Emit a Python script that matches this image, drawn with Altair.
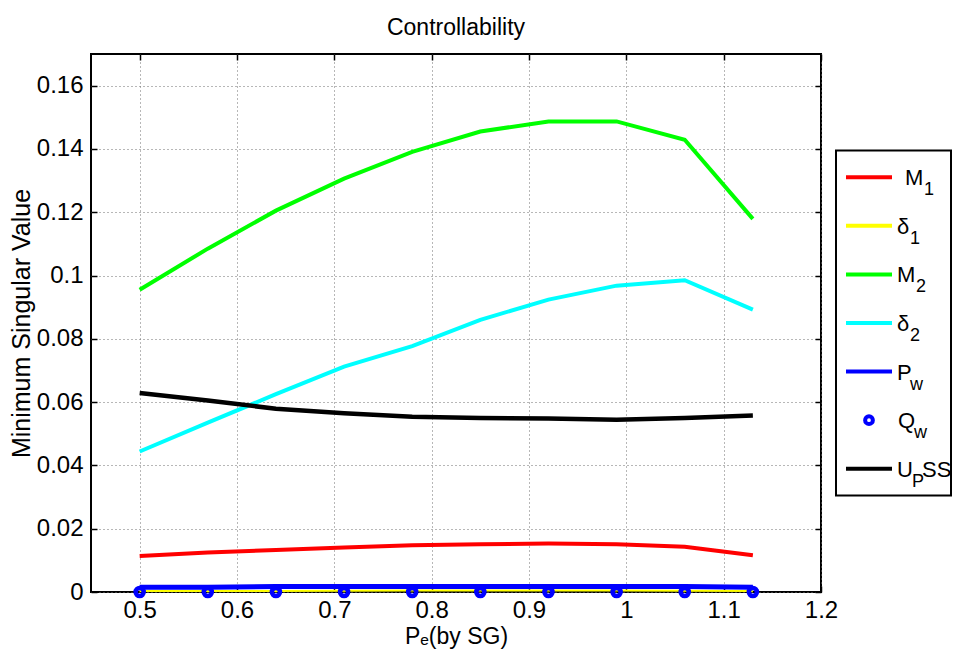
import altair as alt
import pandas as pd

# ---- data ----
x_vals = [0.5, 0.57, 0.64, 0.71, 0.78, 0.85, 0.92, 0.99, 1.06, 1.13]
m1 = [0.0114, 0.0125, 0.0133, 0.0141, 0.0148, 0.0151, 0.0153, 0.0151, 0.0143, 0.0116]
d1 = [0.0003, 0.0003, 0.0003, 0.0004, 0.0005, 0.0005, 0.0005, 0.0005, 0.0004, 0.0003]
m2 = [0.0955, 0.1085, 0.1205, 0.1306, 0.1391, 0.1455, 0.1487, 0.1487, 0.1429, 0.1179]
d2 = [0.0444, 0.0535, 0.0625, 0.0712, 0.0777, 0.0860, 0.0924, 0.0968, 0.0985, 0.0892]
pw = [0.0015, 0.0015, 0.0017, 0.0017, 0.0017, 0.0017, 0.0017, 0.0017, 0.0017, 0.0015]
qw = [0, 0, 0, 0, 0, 0, 0, 0, 0, 0]
upss = [0.0629, 0.0605, 0.0579, 0.0565, 0.0554, 0.0550, 0.0548, 0.0544, 0.0550, 0.0558]

series_names = ["M1", "δ1", "M2", "δ2", "Pw", "Qw", "UPSS"]
legend_main = ["M", "δ", "M", "δ", "P", "Q", "U"]
legend_sub = ["1", "1", "2", "2", "w", "w", "P"]
legend_tail = ["", "", "", "", "", "", "SS"]
colors = ["#ff0000", "#ffff00", "#00ff00", "#00ffff", "#0000ff", "#0000ff", "#000000"]

x_ticks = [0.5, 0.6, 0.7, 0.8, 0.9, 1.0, 1.1, 1.2]
y_ticks = [0, 0.02, 0.04, 0.06, 0.08, 0.1, 0.12, 0.14, 0.16]

rows = []
for name, vals in zip(series_names, [m1, d1, m2, d2, pw, qw, upss]):
    for xv, yv in zip(x_vals, vals):
        rows.append({"series": name, "x": xv, "y": yv})
df = pd.DataFrame(rows)

FONT = "Liberation Sans"

xscale = alt.Scale(domain=[0.45, 1.2], nice=False, zero=False)
yscale = alt.Scale(domain=[0, 0.17], nice=False)

grid_common = dict(grid=True, gridColor="#6e6e6e", gridDash=[1, 3], gridWidth=1,
                   domain=False, tickSize=6, tickColor="black", tickWidth=1.5,
                   offset=-6, labelFont=FONT, labelFontSize=24, labelColor="black",
                   titleFont=FONT, titleFontWeight="normal",
                   titleColor="black", format="~g", labelFlush=False)

x_axis = alt.Axis(values=x_ticks, orient="bottom", title="Pₑ(by SG)", titleFontSize=23,
                  labelPadding=6, titlePadding=3, **grid_common)
y_axis = alt.Axis(values=y_ticks, orient="left", title="Minimum Singular Value", titleFontSize=25,
                  labelPadding=8, titlePadding=2, **grid_common)

X = alt.X("x:Q", scale=xscale, axis=x_axis)
Y = alt.Y("y:Q", scale=yscale, axis=y_axis)

widths = {"M1": 4, "δ1": 2, "M2": 4, "δ2": 4, "Pw": 5, "UPSS": 4.5}

layers = []
for name, col in zip(series_names, colors):
    src = alt.Chart(df).transform_filter(alt.datum.series == name)
    if name == "Qw":
        layers.append(src.mark_point(shape="circle", filled=False, color=col,
                                     strokeWidth=4.5, size=65, opacity=1).encode(x=X, y=Y))
    else:
        layers.append(src.mark_line(color=col, strokeWidth=widths[name]).encode(x=X, y=Y))

data_layer = alt.layer(*layers)

tick_common = dict(grid=False, domain=False, labels=False, tickSize=6, tickColor="black",
                   tickWidth=1.5, offset=-6, title=None)
tick_layer = alt.Chart(df).transform_filter(alt.datum.series == "Qw").mark_point(opacity=0).encode(
    x=alt.X("x:Q", scale=xscale, axis=alt.Axis(values=x_ticks, orient="top", **tick_common)),
    y=alt.Y("y:Q", scale=yscale, axis=alt.Axis(values=y_ticks, orient="right", **tick_common)),
)

main = alt.layer(data_layer, tick_layer).resolve_axis(x="independent", y="independent").properties(
    width=730, height=538,
    title=alt.TitleParams("Controllability", font=FONT, fontSize=23, fontWeight="normal",
                          color="black", frame="group", anchor="middle", offset=13),
)

# ---- hand-made legend with subscripts ----
leg = pd.DataFrame({"series": series_names, "main": legend_main, "sub": legend_sub,
                    "tail": legend_tail})
LY = alt.Y("series:N", sort=series_names, scale=alt.Scale(type="point", padding=0.55), axis=None)
LX = alt.Scale(domain=[0, 115], range=[0, 115])
base = alt.Chart(leg)

leg_lines = base.transform_filter(alt.datum.series != "Qw").mark_rule(strokeWidth=4).encode(
    x=alt.value(10), x2=alt.value(56), y=LY,
    color=alt.Color("series:N", scale=alt.Scale(domain=series_names, range=colors), legend=None),
)
leg_point = base.transform_filter(alt.datum.series == "Qw").mark_point(
    shape="circle", filled=False, color="#0000ff", strokeWidth=4, size=60, opacity=1
).encode(x=alt.value(33), y=LY)

leg_main = base.transform_calculate(
    mx="datum.series == 'M1' ? 69 : (datum.main == 'Q' ? 62 : 61)"
).mark_text(align="left", baseline="middle", font=FONT, fontSize=22, dy=1, color="black").encode(
    x=alt.X("mx:Q", scale=LX, axis=None), y=LY, text="main:N")

leg_sub = base.transform_calculate(
    sx="datum.series == 'M1' ? 88 : (datum.series == 'M2' ? 80 : (datum.main == 'Q' ? 78 : (datum.main == 'U' ? 76 : 74)))"
).mark_text(align="left", baseline="middle", font=FONT, fontSize=18, dy=13, color="black").encode(
    x=alt.X("sx:Q", scale=LX, axis=None), y=LY, text="sub:N")

leg_tail = base.transform_filter(alt.datum.tail != "").transform_calculate(
    tx="86"
).mark_text(align="left", baseline="middle", font=FONT, fontSize=22, dy=1, color="black").encode(
    x=alt.X("tx:Q", scale=LX, axis=None), y=LY, text="tail:N")

legend = alt.layer(leg_lines, leg_point, leg_main, leg_sub, leg_tail).properties(width=115, height=345)

chart = alt.hconcat(main, legend, spacing=15, center=True, bounds="flush").configure_view(
    stroke="black", strokeWidth=2
).properties(padding={"left": 0, "top": 8, "right": 0, "bottom": 0}, background="white")

chart.save("out.html", embed_options={"renderer": "svg", "actions": False})
